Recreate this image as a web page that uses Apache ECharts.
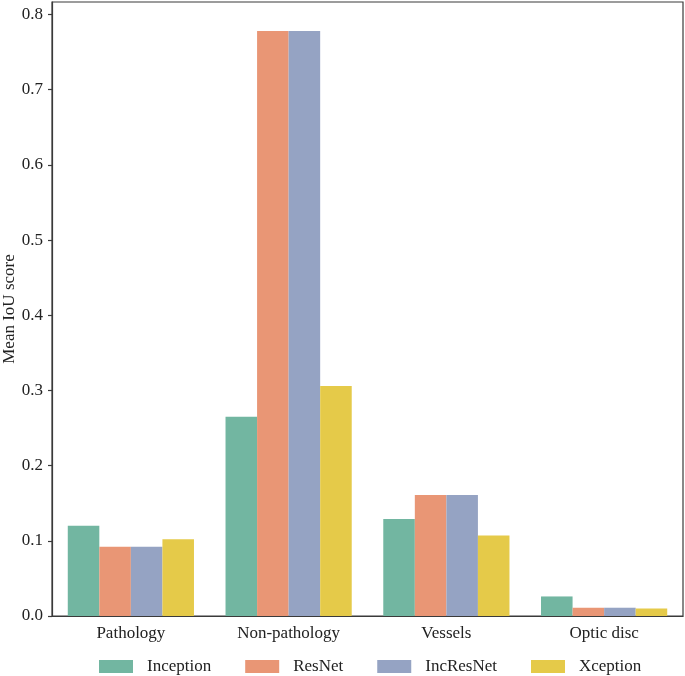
<!DOCTYPE html>
<html>
<head>
<meta charset="utf-8">
<script src="https://cdn.jsdelivr.net/npm/echarts@6/dist/echarts.min.js"></script>
<style>
html,body{margin:0;padding:0;background:#fff;}
#chart{width:685px;height:676px;}
</style>
</head>
<body>
<div id="chart"></div>
<script>
const categories = ['Pathology', 'Non-pathology', 'Vessels', 'Optic disc'];
const seriesNames = ['Inception', 'ResNet', 'IncResNet', 'Xception'];
const inception = [0.120, 0.265, 0.129, 0.026];
const resnet = [0.092, 0.778, 0.161, 0.011];
const incresnet = [0.092, 0.778, 0.161, 0.011];
const xception = [0.102, 0.306, 0.107, 0.010];
const yTicks = [0, 0.1, 0.2, 0.3, 0.4, 0.5, 0.6, 0.7, 0.8];
const yAxisTitle = 'Mean IoU score';

const colors = ['#72b6a1', '#e99675', '#95a3c3', '#e5ca49'];
const values = [inception, resnet, incresnet, xception];
const font = '"Liberation Serif", "Times New Roman", serif';

const chart = echarts.init(document.getElementById('chart'), null, {renderer: 'canvas'});
chart.setOption({
  animation: false,
  backgroundColor: '#fff',
  textStyle: {fontFamily: font},
  grid: {left: 52, right: 2, top: 2, bottom: 60, outerBoundsMode: 'none', containLabel: false,
    show: true, borderColor: '#3a3a3a', borderWidth: 1.2, backgroundColor: 'transparent'},
  graphic: [{
    type: 'text',
    x: 10, y: 309,
    rotation: Math.PI / 2,
    style: {text: yAxisTitle, font: '17px ' + font, fill: '#222', align: 'center', verticalAlign: 'middle'}
  }],
  legend: {
    left: 94, top: 653, padding: 5,
    itemWidth: 34, itemHeight: 13, itemGap: 34,
    icon: 'rect',
    textStyle: {fontFamily: font, fontSize: 17, color: '#222', padding: [0, 0, 0, 9]},
    data: seriesNames
  },
  xAxis: {
    type: 'category',
    data: categories,
    axisLine: {lineStyle: {color: '#3a3a3a', width: 1.2}},
    axisTick: {alignWithLabel: true, length: 4, lineStyle: {color: '#3a3a3a', width: 1.2}},
    axisLabel: {fontFamily: font, fontSize: 17, color: '#222', margin: 9}
  },
  yAxis: {
    type: 'value',
    min: 0, max: 0.8166,
    splitLine: {show: false},
    axisLine: {show: true, lineStyle: {color: '#3a3a3a', width: 1.2}},
    axisTick: {show: true, length: 4, customValues: yTicks, lineStyle: {color: '#3a3a3a', width: 1.2}},
    axisLabel: {fontFamily: font, fontSize: 17, color: '#222', margin: 9, customValues: yTicks,
      formatter: v => v.toFixed(1)}
  },
  series: seriesNames.map((n, i) => ({
    name: n,
    type: 'bar',
    data: values[i],
    barGap: '0%',
    barCategoryGap: '20%',
    itemStyle: {color: colors[i]}
  }))
});
</script>
</body>
</html>
